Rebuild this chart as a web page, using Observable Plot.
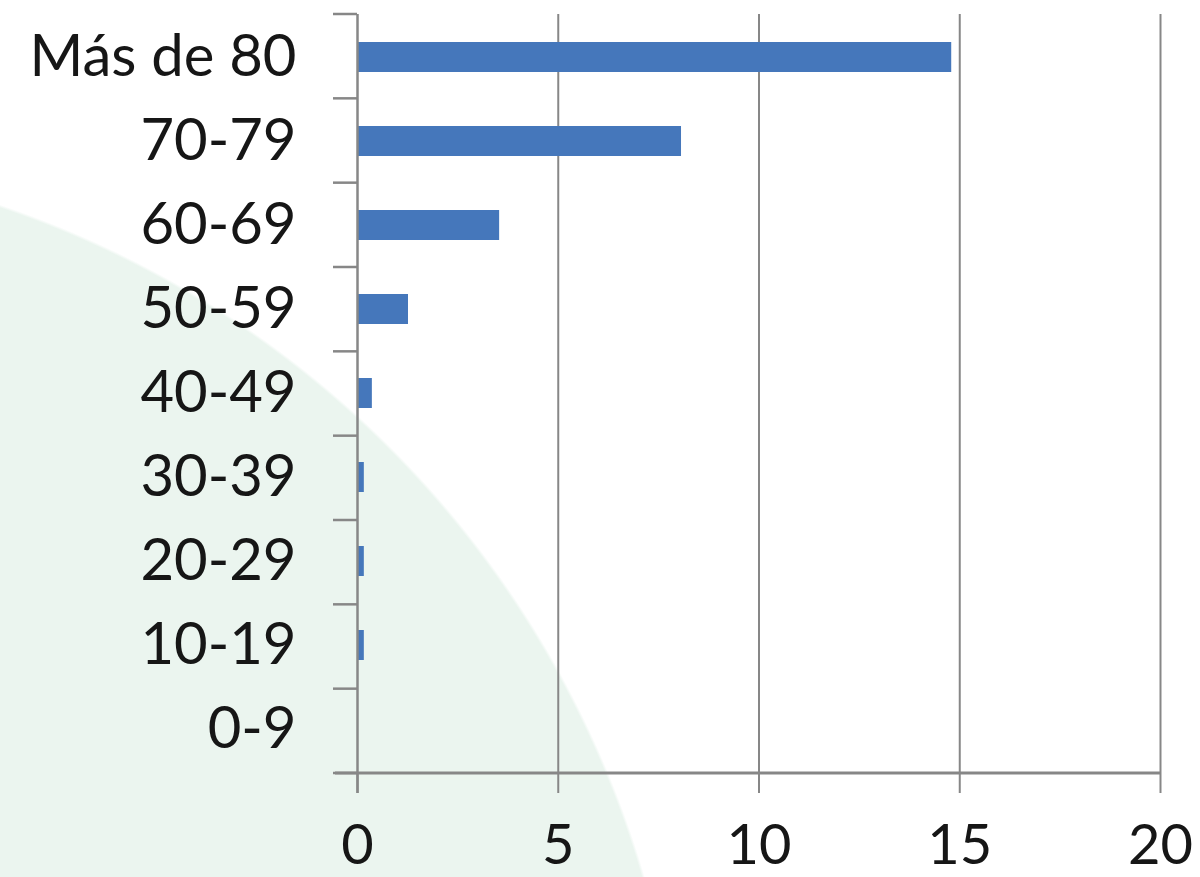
<!DOCTYPE html>
<html>
<head>
<meta charset="utf-8">
<script src="https://cdn.jsdelivr.net/npm/d3@7"></script>
<script src="https://cdn.jsdelivr.net/npm/@observablehq/plot@0.6"></script>
<style>
  html, body { margin: 0; padding: 0; }
  body {
    width: 1200px; height: 877px; overflow: hidden;
    background:
      radial-gradient(circle 1006px at -321px 1158px, #ebf5ef 99.7%, rgba(235,245,239,0) 100%),
      #ffffff;
  }
  #chart { position: absolute; left: 0; top: 0; }
</style>
</head>
<body>
<div id="chart"></div>
<script>
// Age groups, top to bottom as listed on the axis
const groups = ["Más de 80", "70-79", "60-69", "50-59", "40-49", "30-39", "20-29", "10-19", "0-9"];
// Value per age group
const values = [14.8, 8.07, 3.54, 1.27, 0.37, 0.17, 0.17, 0.17, 0];
// Value axis ticks
const xTicks = [0, 5, 10, 15, 20];
const gridTicks = [5, 10, 15, 20];

const data = groups.map((g, i) => ({group: g, value: values[i]}));

const axisGray = "#878787";
const font = "Lato, 'Open Sans', sans-serif";

const plot = Plot.plot({
  width: 1200,
  height: 877,
  marginLeft: 357,
  marginRight: 40,
  marginTop: 14,
  marginBottom: 104,
  style: {background: "transparent", color: "#161616", fontFamily: font, overflow: "visible"},
  x: {domain: [0, 20]},
  y: {domain: groups, paddingInner: 0.64, paddingOuter: 0.32},
  marks: [
    Plot.ruleX(gridTicks, {stroke: axisGray, strokeWidth: 2}),
    Plot.barX(data, {x: "value", y: "group", fill: "#4577bb"}),
    Plot.ruleX([0], {stroke: axisGray, strokeWidth: 2.5, insetBottom: -20}),
    Plot.axisX({ticks: xTicks, tickSize: 20, tickPadding: 31, fontSize: 56, stroke: axisGray, strokeWidth: 2, tickFormat: d => String(d), label: null}),
    Plot.axisY({tickSize: 0, tickPadding: 61, fontSize: 58, label: null})
  ]
});

// Category boundary ticks and the baseline, placed from the plot's own scales
const xs = plot.scale("x");
const ys = plot.scale("y");
const svg = d3.select(plot);
const [y0, y1] = ys.range;
const n = ys.domain.length;
const xLeft = xs.range[0];
const xRight = xs.range[1];
const edges = d3.range(n + 1).map(k => y0 + k * (y1 - y0) / n);
const g = svg.append("g").attr("stroke", axisGray).attr("stroke-width", 2.5);
g.selectAll("line.edge").data(edges).join("line")
  .attr("class", "edge")
  .attr("x1", xLeft - 24).attr("x2", xLeft)
  .attr("y1", d => d).attr("y2", d => d);
g.append("line")
  .attr("x1", xLeft - 22).attr("x2", xRight)
  .attr("y1", y1).attr("y2", y1)
  .attr("stroke-width", 3);

document.getElementById("chart").append(plot);
</script>
</body>
</html>
